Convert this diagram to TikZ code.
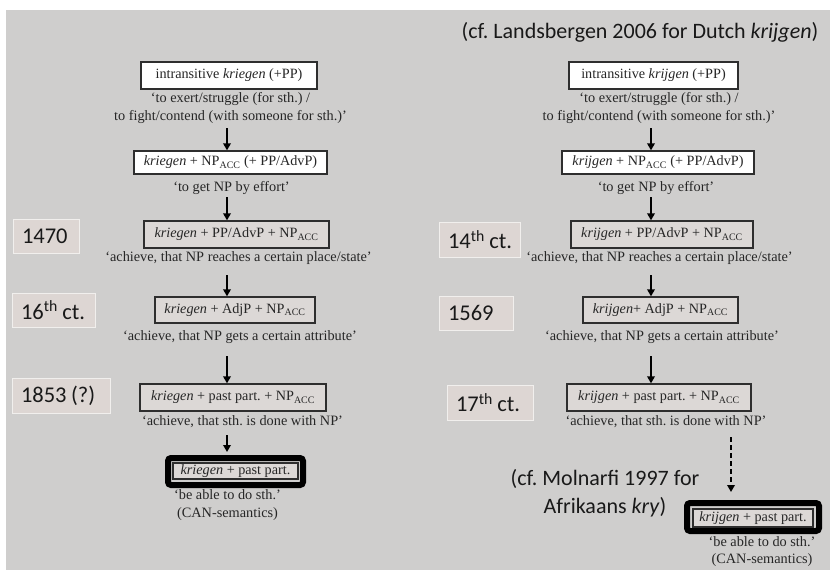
\documentclass[tikz,border=0pt]{standalone}
\usepackage{fontspec}
\setmainfont{Liberation Serif}
\newfontfamily\calibfont{Carlito}
\usetikzlibrary{arrows.meta}
\frenchspacing

\definecolor{slide}{HTML}{CFCECD}
\definecolor{datefill}{HTML}{DDD6D3}
\definecolor{boxfill}{HTML}{DCD8D6}
\definecolor{boxline}{HTML}{2E2E2E}
\definecolor{ink}{HTML}{262626}

\tikzset{
  form/.style={draw=boxline, line width=1.3pt, fill=boxfill, inner sep=0pt,
    text=ink, font=\fontsize{14.2}{16}\selectfont},
  formwhite/.style={form, fill=white},
  gloss/.style={align=center, inner sep=0pt, text=ink,
    font=\fontsize{14.3}{18}\selectfont},
  datebox/.style={fill=datefill, draw=white!60!datefill, line width=0.8pt,
    inner xsep=9pt, inner ysep=0pt, align=left, text=black!90,
    font=\calibfont\fontsize{22.5}{24}\selectfont},
  note/.style={align=center, inner sep=0pt, text=black!90,
    font=\calibfont\fontsize{22}{28}\selectfont},
  frame/.style={draw=black, line width=6pt, rounded corners=3pt, inner sep=0pt},
  arr/.style={line width=1.7pt, -{Triangle[length=7pt,width=7.5pt]}},
  dasharr/.style={arr, dash pattern=on 5pt off 3pt},
}

\newcommand{\acc}{NP\textsubscript{ACC}}
\newcommand{\dsp}{\hspace{4.5pt}}

\begin{document}
\begin{tikzpicture}[x=1pt,y=-1pt]
\useasboundingbox (0,0) rectangle (830,570);
\fill[white] (0,0) rectangle (830,570);
\fill[slide] (6,10) rectangle (830,570);

% heading for the Dutch column
\node[note] (ref) at (640,32) {(cf. Landsbergen 2006 for Dutch \textit{krijgen})};

% ---------- German: kriegen ----------
\node[formwhite, minimum width=176, minimum height=27] (lb1) at (229,75.5)
  {intransitive \textit{kriegen} (+PP)};
\node[gloss] (lg1) at (230.5,108)
  {‘to exert/struggle (for sth.) /\\to fight/contend (with someone for sth.)’};
\node[formwhite, minimum width=193, minimum height=23] (lb2) at (230.5,162.5)
  {\textit{kriegen} + \acc{} (+ PP/AdvP)};
\node[gloss] (lg2) at (231.5,188) {‘to get NP by effort’};
\node[form, minimum width=185, minimum height=27] (lb3) at (236.5,234.5)
  {\textit{kriegen} + PP/AdvP + \acc};
\node[gloss] (lg3) at (238.5,258) {‘achieve, that NP reaches a certain place/state’};
\node[form, minimum width=160, minimum height=26] (lb4) at (235,310)
  {\textit{kriegen} + AdjP + \acc};
\node[gloss] (lg4) at (240,337) {‘achieve, that NP gets a certain attribute’};
\node[form, minimum width=186, minimum height=27] (lb5) at (233,397.5)
  {\textit{kriegen} + past part. + \acc};
\node[gloss] (lg5) at (242.5,422) {‘achieve, that sth. is done with NP’};
\node[frame, minimum width=135, minimum height=27] (lf6) at (235.5,471.5) {};
\node[form, minimum width=125, minimum height=16] (lb6) at (235.5,471)
  {\textit{kriegen} + past part.};
\node[gloss] (lg6) at (227.5,505) {‘be able to do sth.’\\(CAN-semantics)};

% arrow axis and arrow starts
\coordinate (ls1) at (227,128);
\coordinate (ls2) at (227,197);
\coordinate (ls3) at (227,275);
\coordinate (ls4) at (227,356);
\coordinate (ls5) at (227,435);
\draw[arr] (ls1) -- (lb2.north -| ls1);
\draw[arr] (ls2) -- (lb3.north -| ls2);
\draw[arr] (ls3) -- (lb4.north -| ls3);
\draw[arr] (ls4) -- (lb5.north -| ls4);
\draw[arr, shorten >=3pt] (ls5) -- (lf6.north -| ls5);

% dates
\node[datebox, text width=48, minimum height=34] (d1470) at (46,236) {\mbox{1470}};
\node[datebox, text width=65, minimum height=34] (d16) at (53.5,310) {\mbox{16\textsuperscript{th}\dsp ct.}};
\node[datebox, text width=80, minimum height=35] (d1853) at (61,395.5) {\mbox{1853\dsp(?)}};

% ---------- Dutch: krijgen ----------
\node[formwhite, minimum width=169, minimum height=27] (rb1) at (653.5,75.5)
  {intransitive \textit{krijgen} (+PP)};
\node[gloss] (rg1) at (659,108)
  {‘to exert/struggle (for sth.) /\\to fight/contend (with someone for sth.)’};
\node[formwhite, minimum width=192, minimum height=23] (rb2) at (658,162.5)
  {\textit{krijgen} + \acc{} (+ PP/AdvP)};
\node[gloss] (rg2) at (656,188) {‘to get NP by effort’};
\node[form, minimum width=182, minimum height=27] (rb3) at (662,234.5)
  {\textit{krijgen} + PP/AdvP + \acc};
\node[gloss] (rg3) at (659.5,258) {‘achieve, that NP reaches a certain place/state’};
\node[form, minimum width=155, minimum height=26] (rb4) at (660.5,310)
  {\textit{krijgen}+ AdjP + \acc};
\node[gloss] (rg4) at (662,337) {‘achieve, that NP gets a certain attribute’};
\node[form, minimum width=184, minimum height=27] (rb5) at (659,397.5)
  {\textit{krijgen} + past part. + \acc};
\node[gloss] (rg5) at (666,422) {‘achieve, that sth. is done with NP’};
\node[frame, minimum width=132, minimum height=28] (rf6) at (753,517) {};
\node[form, minimum width=120, minimum height=18] (rb6) at (753,518)
  {\textit{krijgen} + past part.};
\node[gloss, font=\fontsize{14.3}{17}\selectfont] (rg6) at (762,551.5)
  {‘be able to do sth.’\\(CAN-semantics)};

\coordinate (rs1) at (651,128);
\coordinate (rs2) at (651,197);
\coordinate (rs3) at (651,275);
\coordinate (rs4) at (651,356);
\coordinate (rs5) at (731,437);
\draw[arr] (rs1) -- (rb2.north -| rs1);
\draw[arr] (rs2) -- (rb3.north -| rs2);
\draw[arr] (rs3) -- (rb4.north -| rs3);
\draw[arr] (rs4) -- (rb5.north -| rs4);
\draw[dasharr, shorten >=8pt] (rs5) -- (rf6.north -| rs5);

\node[datebox, text width=63, minimum height=35] (d14) at (479.5,239.5) {\mbox{14\textsuperscript{th}\dsp ct.}};
\node[datebox, text width=56, minimum height=34] (d1569) at (476,313) {\mbox{1569}};
\node[datebox, text width=68, minimum height=35] (d17) at (490,402.5) {\mbox{17\textsuperscript{th}\dsp ct.}};

\node[note] (afr) at (605,493) {(cf. Molnarfi 1997 for\\Afrikaans \textit{kry})};
\end{tikzpicture}
\end{document}
